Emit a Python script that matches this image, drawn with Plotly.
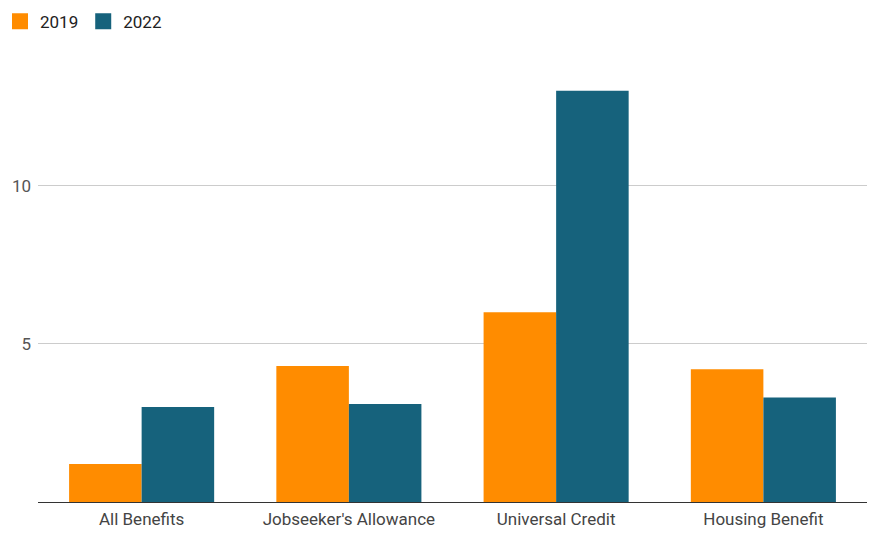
import plotly.graph_objects as go

categories = ["All Benefits", "Jobseeker's Allowance", "Universal Credit", "Housing Benefit"]
values_2019 = [1.2, 4.3, 6.0, 4.2]
values_2022 = [3.0, 3.1, 13.0, 3.3]
series_names = ["2019", "2022"]
colors = ["#FF8C00", "#16627C"]
y_ticks = [5, 10]

fig = go.Figure()
for name, vals, col in zip(series_names, [values_2019, values_2022], colors):
    fig.add_trace(go.Bar(x=categories, y=vals, name=name, marker=dict(color=col, line=dict(width=0)),
                         showlegend=False))
    fig.add_trace(go.Scatter(x=[None], y=[None], mode="markers", name=name,
                             marker=dict(symbol="square", size=18, color=col, line=dict(width=0))))

fig.update_layout(
    width=871, height=533,
    margin=dict(l=38, r=4, t=75, b=26),
    paper_bgcolor="white", plot_bgcolor="white",
    font=dict(family="Roboto", size=17, color="#444444"),
    barmode="group", bargap=0.3, bargroupgap=0,
    legend=dict(orientation="h", xref="container", yref="container", x=0, y=0.993,
                xanchor="left", yanchor="top", font=dict(size=17, color="#222222"),
                itemsizing="trace"),
    xaxis=dict(showline=True, linecolor="#333333", linewidth=1, ticks="", showgrid=False,
               tickfont=dict(size=17, color="#444444"), ticklabelstandoff=2),
    yaxis=dict(range=[0, 13.5], tickvals=y_ticks, showgrid=True, gridcolor="#cccccc", gridwidth=1,
               zeroline=False, showline=False, ticks="", tickfont=dict(size=17, color="#555555"),
               ticklabelstandoff=6),
)

fig.write_html("out.html", config={"displayModeBar": False},
               post_script="document.body.style.margin='0';document.body.style.overflow='hidden';")
